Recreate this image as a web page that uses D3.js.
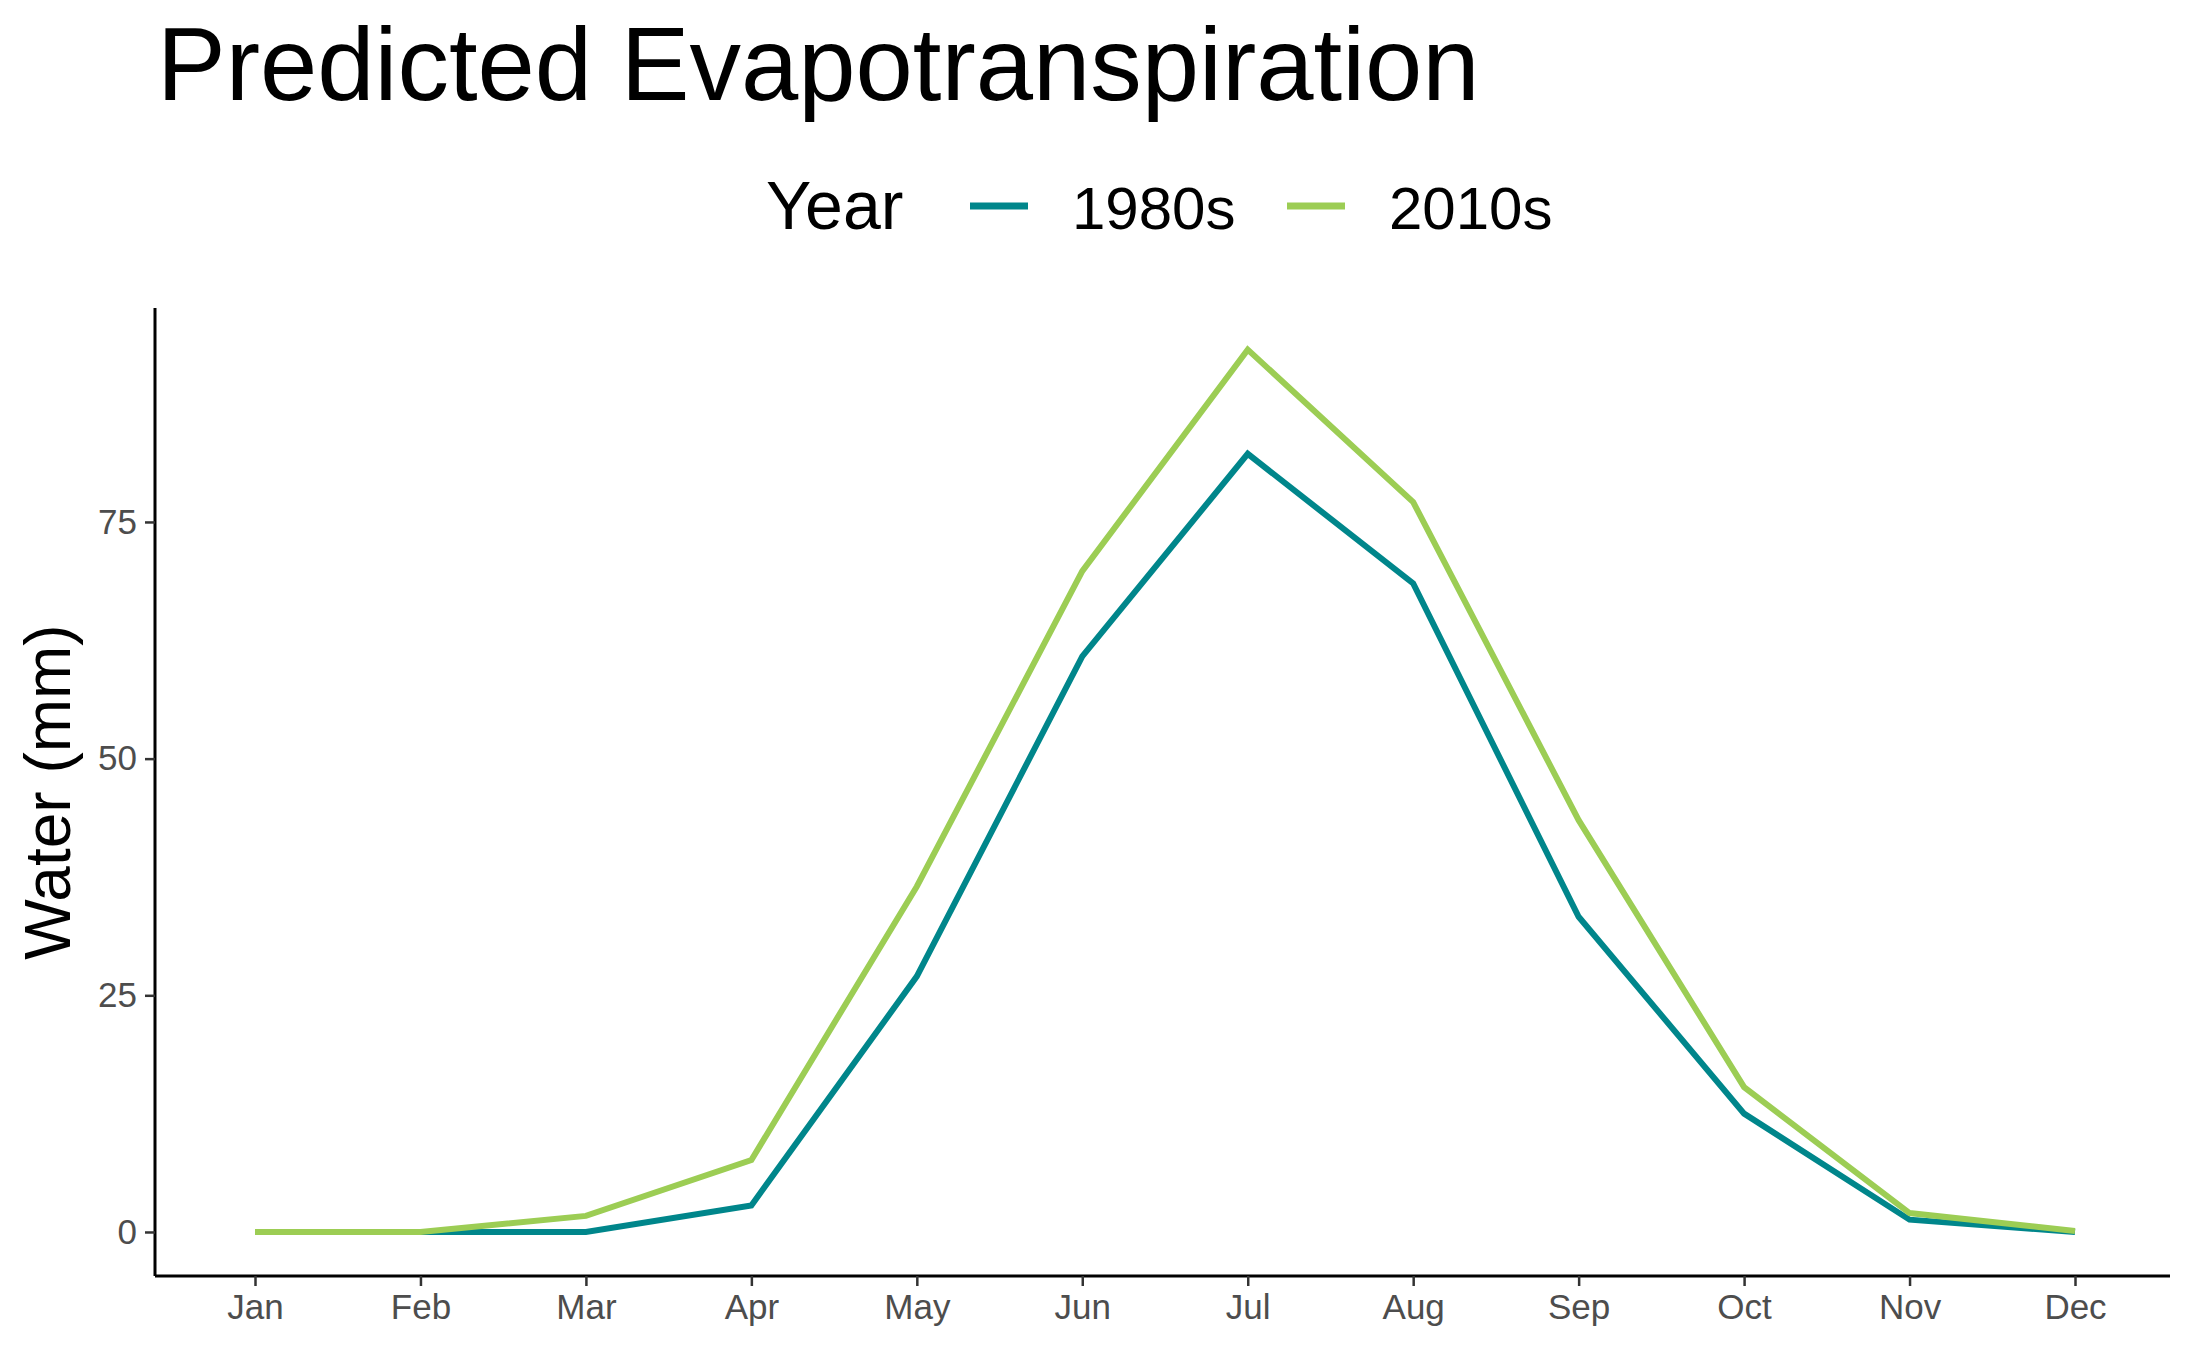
<!DOCTYPE html>
<html><head><meta charset="utf-8">
<script src="https://cdn.jsdelivr.net/npm/d3@7"></script>
<style>body{margin:0;background:#fff}text{font-family:Arial,"Liberation Sans",sans-serif}</style>
</head><body><svg id="c" width="2187" height="1350"></svg>
<script>
// chart data
var months = ["Jan","Feb","Mar","Apr","May","Jun","Jul","Aug","Sep","Oct","Nov","Dec"];
var et1980s = [0, 0, 0, 2.8, 27, 60.8, 82.2, 68.5, 33.3, 12.5, 1.3, 0];
var et2010s = [0, 0, 1.7, 7.6, 36.5, 69.8, 93.2, 77.1, 43.5, 15.3, 2.0, 0.1];
var yTicks = [0, 25, 50, 75];
var seriesNames = ["1980s", "2010s"];
var colors = ["#00868b", "#9ccd54"];

var svg = d3.select("#c");
var x = d3.scalePoint().domain(months).range([255, 2075]);
var y = d3.scaleLinear().domain([-4.65, 97.6]).range([1276, 308]);

svg.append("text").attr("x", 157).attr("y", 100).attr("font-size", 103).text("Predicted Evapotranspiration");

var xa = svg.append("g").attr("transform", "translate(0,1276)")
  .call(d3.axisBottom(x).tickSize(10).tickPadding(8));
xa.select(".domain").attr("d", "M155,0H2170").attr("stroke-width", 3);
var ya = svg.append("g").attr("transform", "translate(155,0)")
  .call(d3.axisLeft(y).tickValues(yTicks).tickSize(10).tickPadding(8));
ya.select(".domain").attr("d", "M0,308V1276").attr("stroke-width", 3);
svg.selectAll(".tick line").attr("stroke", "#333").attr("stroke-width", 2.5);
svg.selectAll(".tick text").attr("font-size", 35).attr("fill", "#4d4d4d");

svg.append("text").attr("transform", "translate(70,792) rotate(-90)")
  .attr("text-anchor", "middle").attr("font-size", 64).text("Water (mm)");

var line = d3.line().x((d, i) => x(months[i])).y(d => y(d));
[et1980s, et2010s].forEach(function(s, i) {
  svg.append("path").attr("d", line(s)).attr("fill", "none")
    .attr("stroke", colors[i]).attr("stroke-width", 6);
});

// legend
svg.append("text").attr("x", 766).attr("y", 229).attr("font-size", 68).text("Year");
var lx = [970, 1287];
seriesNames.forEach(function(n, i) {
  svg.append("line").attr("x1", lx[i]).attr("x2", lx[i] + 58).attr("y1", 206).attr("y2", 206)
    .attr("stroke", colors[i]).attr("stroke-width", 7);
  svg.append("text").attr("x", lx[i] + 102).attr("y", 229).attr("font-size", 60).text(n);
});
</script></body></html>
